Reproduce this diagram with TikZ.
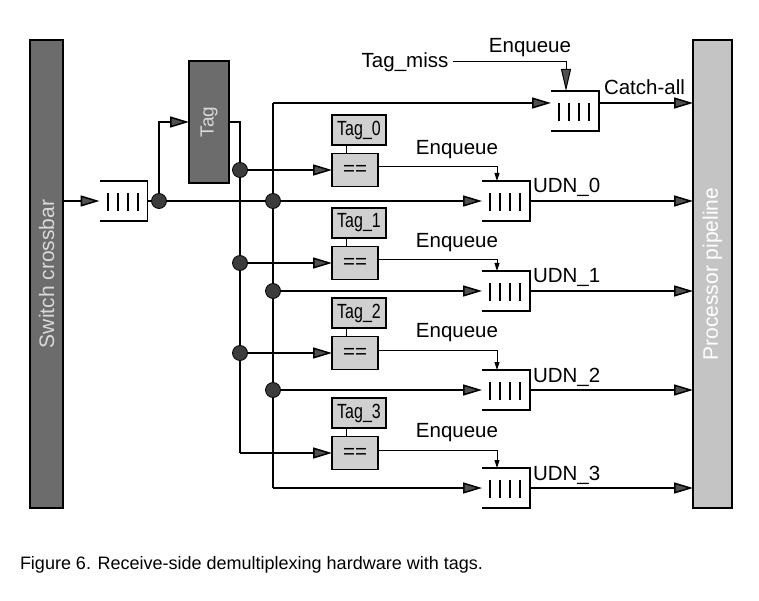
\documentclass[tikz,border=0pt]{standalone}
\usepackage{fontspec}
\setmainfont{Liberation Sans}
\usetikzlibrary{arrows.meta,calc}
\pgfdeclarelayer{bg}
\pgfsetlayers{bg,main}
\definecolor{darkbox}{RGB}{108,108,108}
\definecolor{lightbox}{RGB}{196,196,196}
\definecolor{cmpfill}{RGB}{208,208,208}
\definecolor{dotfill}{RGB}{60,60,60}
\definecolor{headfill}{RGB}{80,80,80}
\newcommand{\lblfont}{\fontsize{20.5}{24}\selectfont}
\tikzset{
  every node/.style={inner sep=0pt, outer sep=0pt},
  lbl/.style={font=\lblfont},
  darkbar/.style={draw=black, fill=darkbox, line width=1.2pt},
  lightbar/.style={draw=black, fill=lightbox, line width=1.2pt},
  bartext/.style={font=\fontsize{21}{24}\selectfont, text=white!85!black},
  qbox/.style={draw=none, minimum width=48pt, minimum height=40pt},
  qline/.style={draw=black, line width=1.2pt},
  qbar/.style={draw=black, line width=2pt},
  cmpbox/.style={draw=black, fill=cmpfill, line width=1.2pt, minimum width=46pt, minimum height=33pt, font=\lblfont},
  tagnbox/.style={draw=black, fill=cmpfill, line width=1.2pt, minimum width=54pt, minimum height=30pt, font=\lblfont},
  wire/.style={draw=black, line width=1.5pt},
  thinwire/.style={draw=black, line width=1pt},
  bigarrow/.style={wire, -{Triangle[length=19pt,width=11pt,fill=headfill]}},
  smallarrow/.style={thinwire, -{Triangle[length=8pt,width=5pt]}},
  missarrow/.style={thinwire, -{Triangle[length=22pt,width=10pt,fill=headfill]}},
  junction/.style={circle, draw=black, fill=dotfill, line width=0.8pt, minimum size=15pt},
}
\newcommand{\fifo}[3]{%
  \node[qbox] (#1) at (#2,#3) {};
  \draw[qline] (#1.north west) -- (#1.north east) -- (#1.south east) -- (#1.south west);
  \foreach \qx in {-16,-6,4,14} {\draw[qbar] ($(#1.center)+(\qx,-8)$) -- ($(#1.center)+(\qx,10)$);}
}
\begin{document}
\begin{tikzpicture}[x=1pt,y=-1pt]
\useasboundingbox (0,0) rectangle (759,601);
\begin{pgfonlayer}{bg}
\fill[white] (0,0) rectangle (759,601);
\end{pgfonlayer}

% big bars
\node[darkbar, minimum width=33pt, minimum height=468pt] (xbar) at (46.5,274) {};
\node[bartext, rotate=90] (xbarlbl) at (xbar.center) {Switch crossbar};
\node[lightbar, minimum width=39pt, minimum height=468pt] (pipe) at (712.5,274) {};
\node[bartext, rotate=90, text=white] (pipelbl) at (pipe.center) {Processor pipeline};
\node[darkbar, minimum width=40pt, minimum height=122pt] (tag) at (209,122) {};
\node[bartext, rotate=90, font=\fontsize{19}{22}\selectfont] (taglbl) at (tag.center) {Tag};

% queues
\fifo{inq}{123.5}{201}
\fifo{caq}{575}{111}
\fifo{u0}{506}{201}
\fifo{u1}{506}{291}
\fifo{u2}{506}{390}
\fifo{u3}{506}{488}

% comparators and tag registers
\foreach \i/\cy in {0/170,1/263,2/353,3/453} {
  \node[cmpbox] (c\i) at (355,\cy) {==};
  \node[tagnbox] (t\i) at (359,\cy-40) {\scalebox{0.78}[1]{Tag\_\i}};
  \draw[thinwire] ($(t\i.south west)+(14,0)$) -- ($(c\i.north west)+(14,0)$);
}

% coordinates
\coordinate (bus1top) at (240,122);
\coordinate (bus1bot) at (240,453);
\coordinate (bus2top) at (273,103);
\coordinate (bus2bot) at (273,488);

% junction dots
\node[junction] (d0) at (159,201) {};
\node[junction] (a0) at (240,170) {};
\node[junction] (a1) at (240,263) {};
\node[junction] (a2) at (240,353) {};
\node[junction] (b0) at (273,201) {};
\node[junction] (b1) at (273,291) {};
\node[junction] (b2) at (273,390) {};

\begin{pgfonlayer}{bg}
% input
\draw[bigarrow] (xbar.east |- inq.west) -- (inq.west);
\draw[bigarrow] (inq.east) -- (d0.center) -- (b0.center) -- (u0.west);
\draw[bigarrow] (d0.center) |- (tag.west);
% tag bus
\draw[wire] (tag.east |- bus1top) -- (bus1top) -- (bus1bot);
\draw[bigarrow] (bus1bot) -- (c3.west);
\draw[bigarrow] (a0.center) -- (c0.west);
\draw[bigarrow] (a1.center) -- (c1.west);
\draw[bigarrow] (a2.center) -- (c2.west);
% data bus
\draw[wire] (bus2top) -- (bus2bot);
\draw[bigarrow] (bus2top) -- (bus2top -| caq.west);
\draw[bigarrow] (b1.center) -- (u1.west);
\draw[bigarrow] (b2.center) -- (u2.west);
\draw[bigarrow] (bus2bot) -- (u3.west);
\end{pgfonlayer}

% outputs
\draw[bigarrow] (bus2top -| caq.east) -- (bus2top -| pipe.west);
\foreach \i in {0,1,2,3} {
  \draw[bigarrow] (u\i.east) -- (u\i.east -| pipe.west);
  \node[lbl, anchor=base west] (lu\i) at ($(u\i.east)+(3,-8)$) {UDN\_\i};
}
\node[lbl, anchor=base west] (lca) at ($(bus2top -| caq.east)+(5,-8)$) {Catch-all};

% enqueue signals
\foreach \i/\ey in {0/167,1/260,2/350,3/450} {
  \coordinate (e\i) at (497,\ey);
  \draw[smallarrow] (c\i.east |- e\i) -- (e\i) -- (e\i |- u\i.north);
  \node[lbl] (en\i) at (457,\ey-17) {Enqueue};
}

% tag miss
\coordinate (tmc) at (566,62);
\node[lbl] (tm) at (405,62) {Tag\_miss};
\draw[missarrow] ([xshift=5pt]tm.east) -- (tmc) -- (tmc |- caq.north);
\node[lbl] (enc) at (530,48) {Enqueue};

% caption
\node[font=\fontsize{18}{22}\selectfont, anchor=west] (cap) at (20,565) {Figure 6. Receive-side demultiplexing hardware with tags.};
\end{tikzpicture}
\end{document}
